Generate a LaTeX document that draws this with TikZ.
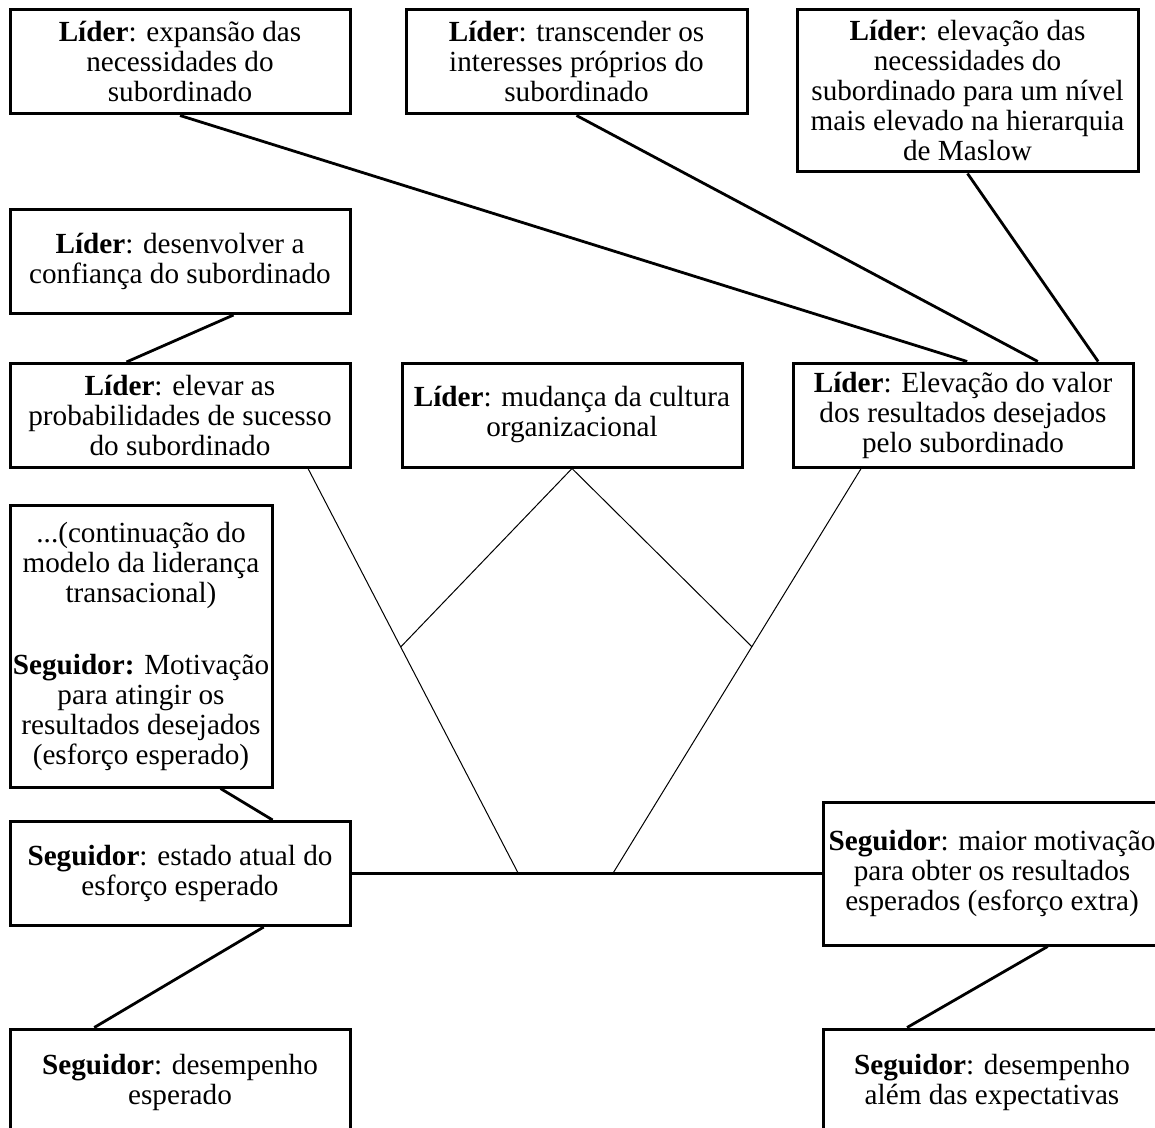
\documentclass[tikz,border=0pt]{standalone}
\usepackage{fontspec}
\setmainfont{Liberation Serif}
\usetikzlibrary{calc}

\begin{document}
\begin{tikzpicture}[x=.5pt,y=-.5pt,
 caixa/.style={draw,line width=1.5pt,align=center,inner sep=0pt,minimum width=170pt,minimum height=52pt,font=\fontsize{14.6}{15}\selectfont},
 grosso/.style={line width=1.4pt},
 fino/.style={line width=.5pt}]
 \useasboundingbox (0,0) rectangle (1155,1128);
 \clip (0,0) rectangle (1155,1128);
 % caixas do lider
 \node[caixa] (expansao) at (180,62) {\textbf{Líder}: expansão das\\necessidades do\\subordinado};
 \node[caixa,minimum width=170.5pt] (transcender) at (576.5,62) {\textbf{Líder}: transcender os\\interesses próprios do\\subordinado};
 \node[caixa,minimum width=170.5pt,minimum height=81pt] (maslow) at (967.5,91) {\textbf{Líder}: elevação das\\necessidades do\\subordinado para um nível\\mais elevado na hierarquia\\de Maslow};
 \node[caixa] (confianca) at (180,261.5) {\textbf{Líder}: desenvolver a\\confiança do subordinado};
 \node[caixa] (sucesso) at (180,415.5) {\textbf{Líder}: elevar as\\probabilidades de sucesso\\do subordinado};
 \node[caixa] (cultura) at (572,415) {\textbf{Líder}: mudança da cultura\\organizacional};
 \node[caixa] (valor) at (963,415) {\textbf{Líder}: Elevação do valor\\dos resultados desejados\\pelo subordinado};
 % caixas do seguidor
 \node[caixa,minimum width=131pt,minimum height=141pt] (continuacao) at (141,646) {...(continuação do\\modelo da liderança\\transacional)\\[21pt]\textbf{Seguidor:} Motivação\\para atingir os\\resultados desejados\\(esforço esperado)};
 \node[caixa] (atual) at (180,873.5) {\textbf{Seguidor}: estado atual do\\esforço esperado};
 \node[caixa,minimum height=53pt] (esperado) at (180,1082) {\textbf{Seguidor}: desempenho\\esperado};
 \node[caixa,minimum width=169pt,minimum height=71.5pt] (extra) at (992,873.5) {\textbf{Seguidor}: maior motivação\\para obter os resultados\\esperados (esforço extra)};
 \node[caixa,minimum width=169pt,minimum height=53pt] (alem) at (992,1082) {\textbf{Seguidor}: desempenho\\além das expectativas};
 % ligacoes
 \draw[grosso] (expansao.south) -- ($(valor.north west)!.512!(valor.north east)$);
 \draw[grosso] (transcender.south) -- ($(valor.north west)!.718!(valor.north east)$);
 \draw[grosso] (maslow.south) -- ($(valor.north west)!.894!(valor.north east)$);
 \draw[grosso] ($(confianca.south west)!.656!(confianca.south east)$) -- ($(sucesso.north west)!.344!(sucesso.north east)$);
 \draw[grosso] (atual.east) -- (extra.west);
 \coordinate (b1) at ($(atual.east)!.355!(extra.west)$);
 \coordinate (b2) at ($(atual.east)!.556!(extra.west)$);
 \coordinate (s1) at ($(sucesso.south west)!.874!(sucesso.south east)$);
 \coordinate (v1) at ($(valor.south west)!.203!(valor.south east)$);
 \draw[fino] (s1) -- (b1) (v1) -- (b2);
 \draw[fino] ($(s1)!.44!(b1)$) -- (cultura.south) -- ($(v1)!.44!(b2)$);
 \draw[grosso] ($(continuacao.south west)!.8!(continuacao.south east)$) -- ($(atual.north west)!.77!(atual.north east)$);
 \draw[grosso] ($(atual.south west)!.744!(atual.south east)$) -- ($(esperado.north west)!.25!(esperado.north east)$);
 \draw[grosso] ($(extra.south west)!.663!(extra.south east)$) -- ($(alem.north west)!.251!(alem.north east)$);
\end{tikzpicture}
\end{document}
